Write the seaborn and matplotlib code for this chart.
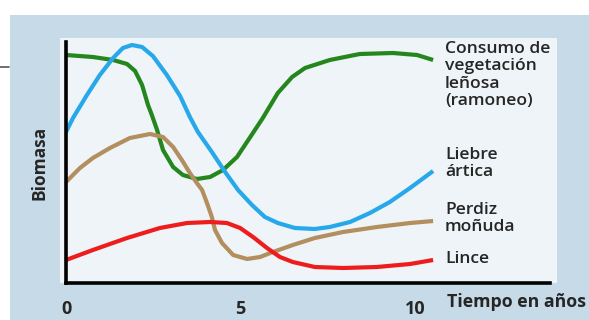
import matplotlib
matplotlib.use('Agg')
import matplotlib.pyplot as plt
import matplotlib.patches as mpatches
import pandas as pd
import seaborn as sns

# years / biomass (arbitrary units)
consumo_x = [0.0, 0.77, 1.35, 1.75, 1.98, 2.18, 2.35, 2.46, 2.61, 2.78, 3.07, 3.35, 3.75, 4.13,
             4.50, 4.90, 5.30, 5.64, 6.07, 6.48, 6.85, 7.56, 8.42, 9.37, 10.06, 10.52]
consumo_y = [228, 226, 223, 219, 212, 198, 178, 168, 153, 133, 116, 108, 104, 106,
             113, 126, 147, 165, 190, 206, 215, 223, 229, 230, 228, 223]

liebre_x = [0.0, 0.20, 0.60, 0.97, 1.35, 1.63, 1.89, 2.18, 2.49, 2.89, 3.27, 3.55, 3.78, 4.18,
            4.56, 4.93, 5.33, 5.70, 6.07, 6.56, 7.13, 7.56, 8.14, 8.71, 9.28, 9.86, 10.52]
liebre_y = [151, 165, 188, 208, 225, 235, 238, 236, 227, 208, 187, 166, 151, 131,
            111, 93, 78, 66, 60, 55, 54, 56, 61, 70, 81, 95, 112]

perdiz_x = [0.0, 0.40, 0.77, 1.26, 1.83, 2.41, 2.78, 3.07, 3.32, 3.55, 3.75, 3.90, 4.04, 4.18,
            4.27, 4.47, 4.79, 5.19, 5.56, 5.93, 6.50, 7.13, 7.94, 8.91, 9.86, 10.52]
perdiz_y = [101, 115, 125, 135, 145, 149, 146, 136, 123, 110, 100, 93, 80, 66,
            53, 40, 28, 24, 26, 31, 38, 45, 51, 56, 60, 62]

lince_x = [0.0, 0.77, 1.75, 2.69, 3.47, 4.13, 4.61, 4.99, 5.36, 5.76, 6.13, 6.50, 7.13,
           7.94, 8.91, 9.86, 10.52]
lince_y = [23, 33, 45, 55, 60, 61, 60, 55, 46, 35, 26, 21, 16,
           15, 16, 19, 23]

series = {
    'Consumo': (consumo_x, consumo_y),
    'Liebre': (liebre_x, liebre_y),
    'Perdiz': (perdiz_x, perdiz_y),
    'Lince': (lince_x, lince_y),
}
colors = {'Consumo': '#24861c', 'Liebre': '#27a8ea', 'Perdiz': '#b38e5f', 'Lince': '#ee1d1d'}

labels = [
    ('Consumo de\nvegetación\nleñosa\n(ramoneo)', 41),
    ('Liebre\nártica', 147),
    ('Perdiz\nmoñuda', 202),
    ('Lince', 251),
]

frames = []
for name, (xs, ys) in series.items():
    frames.append(pd.DataFrame({'x': xs, 'y': ys, 'serie': name}))
df = pd.concat(frames, ignore_index=True)

sns.set_style('white')
plt.rcParams['font.family'] = ['Open Sans', 'DejaVu Sans']

W, H = 589, 320
fig = plt.figure(figsize=(W / 100, H / 100), dpi=100)
fig.patch.set_facecolor('white')

# blue textbook box + white inner panel
fig.patches.append(mpatches.Rectangle((10 / W, 0), 1, 1 - 15 / H, transform=fig.transFigure,
                                      facecolor='#c6dbe7', edgecolor='none', zorder=-2))
fig.patches.append(mpatches.Rectangle((60 / W, 1 - 283 / H), 497 / W, 245 / H, transform=fig.transFigure,
                                      facecolor='#eef4f7', edgecolor='none', zorder=-1))
fig.lines.append(plt.Line2D([0, 9 / W], [1 - 67 / H, 1 - 67 / H], transform=fig.transFigure,
                            color='#555555', lw=1.2))

ax = fig.add_axes([66 / W, 1 - 283 / H, 484 / W, 241 / H])
ax.set_zorder(2)
ax.patch.set_alpha(0)

sns.lineplot(data=df, x='x', y='y', hue='serie', palette=colors, sort=False,
             linewidth=3.0, legend=False, ax=ax)
for ln in ax.lines:
    ln.set_solid_joinstyle('round')
    ln.set_solid_capstyle('butt')

ax.set_xlim(0, 13.87)
ax.set_ylim(0, 241)
ax.set_xticks([0, 5, 10])
ax.set_xticklabels(['0', '5', '10'], fontsize=13, fontweight='bold')
ax.set_yticks([])
ax.tick_params(axis='x', direction='out', length=8, width=2, pad=4, color='black')
for side in ['top', 'right']:
    ax.spines[side].set_visible(False)
for side in ['left', 'bottom']:
    ax.spines[side].set_linewidth(2.6)
    ax.spines[side].set_color('black')
ax.set_xlabel('')
ax.set_ylabel('')

fig.text(40 / W, 1 - 163 / H, 'Biomasa', rotation=90, ha='center', va='center',
         fontsize=12.5, fontweight='bold')
fig.text(447 / W, 1 - 302 / H, 'Tiempo en años', ha='left', va='center',
         fontsize=12.8, fontweight='bold')
for txt, top in labels:
    fig.text(445 / W, 1 - top / H, txt, ha='left', va='top', fontsize=12.6,
             fontweight='semibold', linespacing=1.12)

fig.savefig('out.png', dpi=100)
plt.close(fig)
